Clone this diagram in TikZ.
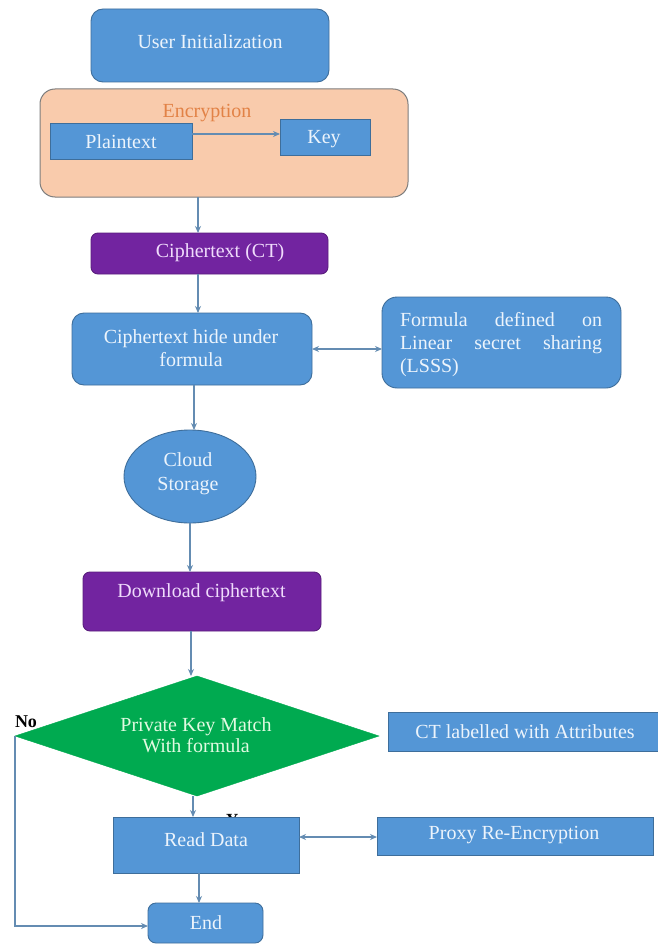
\documentclass[tikz,border=0pt]{standalone}
\usepackage{fontspec}
\setmainfont{Liberation Serif}
\usetikzlibrary{arrows.meta,shapes.geometric}
\definecolor{boxblue}{RGB}{84,150,214}
\definecolor{boxedge}{RGB}{62,110,155}
\definecolor{boxpurple}{RGB}{114,36,160}
\definecolor{purpleedge}{RGB}{90,30,125}
\definecolor{boxgreen}{RGB}{0,170,80}
\definecolor{peach}{RGB}{249,203,172}
\definecolor{peachedge}{RGB}{125,125,125}
\definecolor{enctext}{RGB}{226,130,70}
\definecolor{arrowcol}{RGB}{100,140,178}
\definecolor{lighttext}{RGB}{236,244,252}
\definecolor{lavtext}{RGB}{240,220,252}
\definecolor{greentext}{RGB}{225,250,225}
\tikzset{
  base/.style={inner sep=0pt, outer sep=0pt},
  bluebox/.style={base, rectangle, fill=boxblue, draw=boxedge, line width=0.9pt},
  bluerbox/.style={bluebox, rounded corners=12pt},
  purplebox/.style={base, rectangle, fill=boxpurple, draw=purpleedge, line width=0.9pt, rounded corners=7pt},
  lbl/.style={base, font=\fontsize{20}{23}\selectfont, text=lighttext, align=center},
  arr/.style={draw=arrowcol, line width=1.1pt, -{Stealth[length=7pt,width=6pt]}},
  darr/.style={draw=arrowcol, line width=1.1pt, {Stealth[length=7pt,width=6pt]}-{Stealth[length=7pt,width=6pt]}},
  ln/.style={draw=arrowcol, line width=1.1pt}
}
\begin{document}
\begin{tikzpicture}[x=1pt,y=-1pt]
\useasboundingbox (0,0) rectangle (657,944);
\fill[white] (0,0) rectangle (657,944);

% helper coordinates for vertical connector lines
\coordinate (c198) at (198,0);
\coordinate (c194) at (194,0);
\coordinate (c191) at (191,0);
\coordinate (c193) at (193,0);
\coordinate (c199) at (199,0);

% boxes
\node[bluerbox, minimum width=238pt, minimum height=73pt] (user) at (210,45.5) {};
\node[base, rectangle, rounded corners=15pt, fill=peach, draw=peachedge, line width=1pt, minimum width=368pt, minimum height=108pt] (enc) at (224,143) {};
\node[bluebox, minimum width=142pt, minimum height=36pt] (plain) at (121,141) {};
\node[bluebox, minimum width=90pt, minimum height=36pt] (key) at (325,137) {};
\node[purplebox, minimum width=237pt, minimum height=41pt] (ct) at (209.5,253.5) {};
\node[bluerbox, minimum width=240pt, minimum height=72pt] (hide) at (192,349) {};
\node[bluebox, rounded corners=15pt, minimum width=239pt, minimum height=91pt] (formula) at (501.5,342.5) {};
\node[base, ellipse, fill=boxblue, draw=boxedge, line width=0.9pt, minimum width=132pt, minimum height=93pt] (cloud) at (190,476.5) {};
\node[purplebox, minimum width=238pt, minimum height=59pt] (dl) at (202,601.5) {};
\node[base, diamond, fill=boxgreen, draw=boxgreen, minimum width=364pt, minimum height=120pt] (dia) at (197,736) {};
\node[bluebox, minimum width=282pt, minimum height=39pt] (ctl) at (529,731.5) {};
\node[base, font=\bfseries\fontsize{17}{19}\selectfont, anchor=base west] (yes) at (226,825) {Yes};
\node[bluebox, minimum width=186pt, minimum height=56pt] (read) at (206,845) {};
\node[bluebox, minimum width=276pt, minimum height=38pt] (proxy) at (515,836) {};
\node[bluebox, rounded corners=8pt, minimum width=115pt, minimum height=40pt] (end) at (205.5,923) {};

% texts
\node[lbl] (tuser) at (210,42) {User Initialization};
\node[lbl, text=enctext] (tenc) at (207,113) {Encryption};
\node[lbl] (tplain) at (121,142) {Plaintext};
\node[lbl] (tkey) at (324,139) {Key};
\node[lbl, text=lavtext] (tct) at (220,253) {Ciphertext (CT)};
\node[lbl] (thide) at (191,348) {Ciphertext hide under\\formula};
\node[lbl, anchor=west, align=left] (tformula) at (400,344.5)
  {\makebox[202pt][s]{Formula defined on}\\\makebox[202pt][s]{Linear secret sharing}\\(LSSS)};
\node[lbl, font=\fontsize{20}{24}\selectfont] (tcloud) at (188,474) {Cloud\\Storage};
\node[lbl, text=lavtext] (tdl) at (201.5,593) {Download ciphertext};
\node[lbl, text=greentext, font=\fontsize{20}{21}\selectfont] (tdia) at (196,735.5) {Private Key Match\\With formula};
\node[lbl] (tctl) at (525,732) {CT labelled with Attributes};
\node[lbl] (tread) at (206,840) {Read Data};
\node[lbl] (tproxy) at (514,835) {Proxy Re-Encryption};
\node[lbl] (tend) at (206,923) {End};
\node[base, font=\bfseries\fontsize{18}{20}\selectfont] (no) at (26,722) {No};

% connectors
\draw[arr] ([yshift=7pt]plain.east) -- ([yshift=7pt]plain.east -| key.west);
\draw[arr] (enc.south -| c198) -- (ct.north -| c198);
\draw[arr] (ct.south -| c198) -- (hide.north -| c198);
\draw[darr] (hide.east) -- (hide.east -| formula.west);
\draw[arr] (hide.south -| c194) -- (cloud.north -| c194);
\draw[arr] (cloud.south) -- (cloud.south |- dl.north);
\draw[arr] (dl.south -| c191) -- (dia.north -| c191);
\draw[arr] (dia.south -| c193) -- (read.north -| c193);
\draw[darr] ([yshift=8pt]read.east) -- ([yshift=8pt]read.east -| proxy.west);
\draw[arr] (read.south -| c199) -- (end.north -| c199);
\draw[arr] (dia.west) |- ([yshift=-3pt]end.west);
\end{tikzpicture}
\end{document}
